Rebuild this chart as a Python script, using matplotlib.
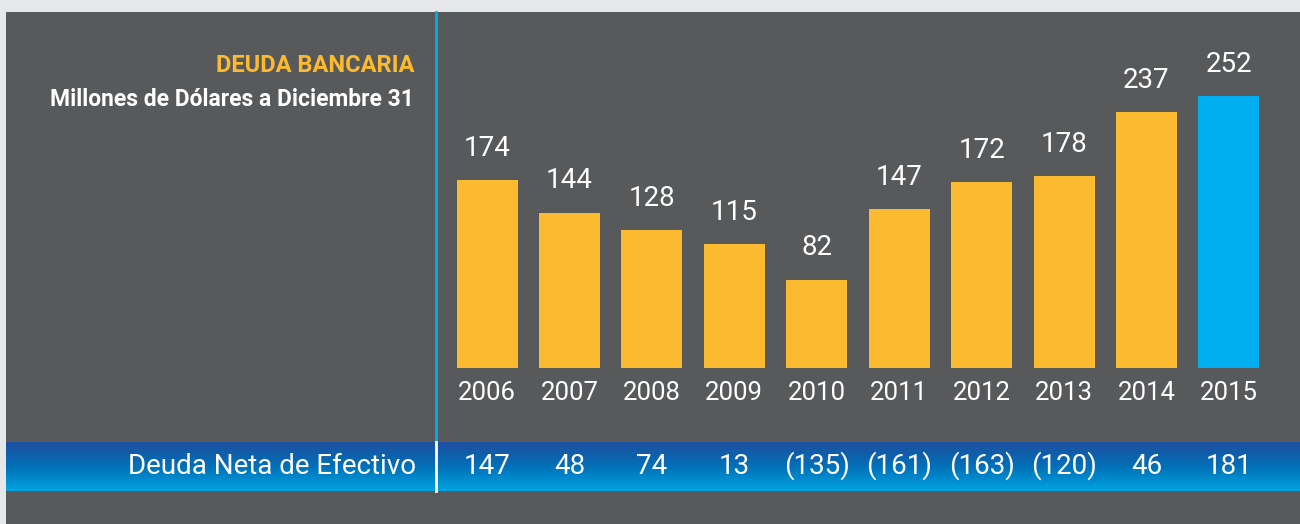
import numpy as np
import matplotlib.pyplot as plt
from matplotlib.colors import LinearSegmentedColormap

# Datos
anios = ["2006", "2007", "2008", "2009", "2010", "2011", "2012", "2013", "2014", "2015"]
deuda_bancaria = [174, 144, 128, 115, 82, 147, 172, 178, 237, 252]
deuda_neta = ["147", "48", "74", "13", "(135)", "(161)", "(163)", "(120)", "46", "181"]

W, H = 1300, 524
plt.rcParams['font.family'] = ["Roboto", "DejaVu Sans"]

fig = plt.figure(figsize=(W / 100, H / 100), dpi=100)
fig.patch.set_facecolor("#e6e7e8")

def fx(px):
    return px / W

def fy(py):
    return 1 - py / H

# Panel gris oscuro
fondo = fig.add_axes([fx(6), 0, 1 - fx(6), fy(12)])
fondo.set_facecolor("#58595b")
fondo.set_xticks([])
fondo.set_yticks([])
for s in fondo.spines.values():
    s.set_visible(False)

# Banda azul con degradado
banda = fig.add_axes([fx(6), fy(491), 1 - fx(6), fy(442) - fy(491)])
cmap = LinearSegmentedColormap.from_list("banda", ["#1d4f9f", "#0170b8", "#00a3e0"])
grad = np.linspace(0, 1, 100).reshape(-1, 1)
banda.imshow(grad, aspect="auto", cmap=cmap, extent=[0, 1, 0, 1], origin="upper")
banda.set_xlim(0, 1)
banda.set_ylim(0, 1)
banda.axis("off")

# Lineas verticales
fig.add_artist(plt.Line2D([fx(435.5), fx(435.5)], [fy(12), fy(442)], color="#00aeef", lw=2))
fig.add_artist(plt.Line2D([fx(436), fx(436)], [fy(442), fy(491)], color="white", lw=2))

# Grafico de barras
ax = fig.add_axes([fx(436), fy(368), fx(1290) - fx(436), fy(12) - fy(368)])
ax.patch.set_alpha(0)
x = np.arange(len(anios))
colores = ["#fbba30"] * (len(anios) - 1) + ["#00aeef"]
ax.bar(x, deuda_bancaria, width=0.74, color=colores)
ax.set_xlim(-0.619, 9.74)
ax.set_ylim(0, 330)
ax.axis("off")

for i, v in enumerate(deuda_bancaria):
    ax.text(i, v + 17, str(v), ha="center", va="bottom", color="white", fontsize=20)
    ax.text(i, -23, anios[i], ha="center", va="center", color="white", fontsize=18.5, clip_on=False)

trans = ax.get_xaxis_transform()
for i, t in enumerate(deuda_neta):
    ax.text(i, -(466 - 368) / 356, t, transform=trans, ha="center", va="center",
            color="white", fontsize=20, clip_on=False)

# Titulos
fig.text(fx(414), fy(66), "DEUDA BANCARIA", ha="right", va="center",
         color="#fbba30", fontsize=17, fontweight="bold")
fig.text(fx(414), fy(100), "Millones de Dólares a Diciembre 31", ha="right", va="center",
         color="white", fontsize=16.5, fontweight="bold")
fig.text(fx(416), fy(466), "Deuda Neta de Efectivo", ha="right", va="center",
         color="white", fontsize=20)

fig.savefig("out.png", dpi=100, facecolor=fig.get_facecolor())
